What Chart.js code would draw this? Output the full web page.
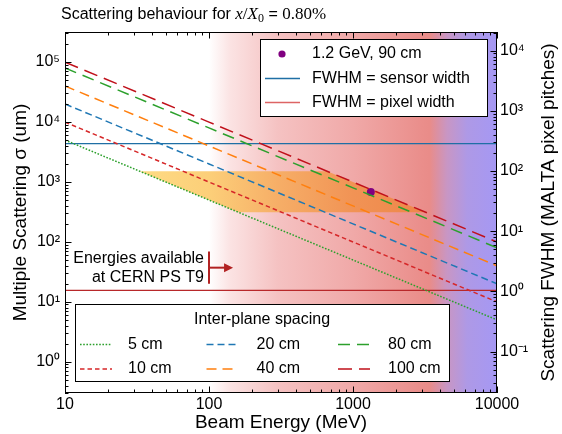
<!DOCTYPE html>
<html>
<head>
<meta charset="utf-8">
<script src="https://cdn.jsdelivr.net/npm/chart.js@4.4.1/dist/chart.umd.min.js"></script>
<style>
html,body{margin:0;padding:0;background:#fff;}
#wrap{width:562px;height:434px;position:relative;}
canvas{display:block;}
</style>
</head>
<body>
<div id="wrap"><canvas id="c" width="562" height="434"></canvas></div>
<script>
// ---------------- DATA ----------------
const energies = [10, 100, 1000, 10000];               // Beam energy (MeV)
const spacingLabels = ['5 cm', '10 cm', '20 cm', '40 cm', '80 cm', '100 cm'];
const sigma5cm   = [4970, 497, 49.7, 4.97];            // multiple scattering sigma (um)
const sigma10cm  = [9930, 993, 99.3, 9.93];
const sigma20cm  = [19900, 1990, 199, 19.9];
const sigma40cm  = [39700, 3970, 397, 39.7];
const sigma80cm  = [79400, 7940, 794, 79.4];
const sigma100cm = [99300, 9930, 993, 99.3];
const measuredLabel = '1.2 GeV, 90 cm';
const measuredEnergy = [1330];
const measuredSigma = [680];
const sensorWidthSigma = 4350;       // um, FWHM = sensor width
const pixelWidthSigma = 15.46;       // um, FWHM = pixel width
const sigmaPerPixelPitch = 15.46;    // um of sigma per FWHM pixel pitch
const bandEnergies = [33, 662, 3200, 160];   // highlighted region vertices (MeV)
const bandSigma = [1500, 1500, 310, 310];    // highlighted region vertices (um)
const xTickValues = [10, 100, 1000, 10000];
const yTickValues = [1, 10, 100, 1000, 10000, 100000];
const y2TickValues = [0.1, 1, 10, 100, 1000, 10000];
const xRange = [10, 10000];
const yRange = [0.3162, 316228];
const t9Energy = 100;                 // MeV, lowest energy at CERN PS T9

// ---------------- STYLE ----------------
const FONT = "'Liberation Sans', Arial, Helvetica, sans-serif";
const SERIF = "'Liberation Serif', 'Times New Roman', serif";
Chart.defaults.font.family = FONT;
Chart.defaults.color = '#000';
const seriesColors = ['#2ca02c', '#d62728', '#1f77b4', '#ff7f0e', '#2ca02c', '#c0101a'];
const seriesDashes = [[1.6, 1.6], [4.5, 3], [7, 4], [10, 6], [12, 7], [14, 7]];
const sensorColor = '#1f6fa5';
const pixelColor = '#b8282a';
const pointColor = '#800080';
const arrowColor = '#b22222';
const bgStops = [[100, '#ffffff'], [140, '#fbe3e3'], [300, '#f5c2c2'], [1000, '#f0a9a8'],
                 [3000, '#ea8e8b'], [3400, '#e98c89'], [4500, '#c896c4'], [6200, '#ae99e6'], [10000, '#a598f4']];
const bandStops = [[33, '#fedb84'], [100, '#fccf79'], [300, '#f6ae67'], [1000, '#f19355'], [3200, '#ee8649']];

const seriesArrays = [sigma5cm, sigma10cm, sigma20cm, sigma40cm, sigma80cm, sigma100cm];
const toPts = (xs, ys) => xs.map((x, i) => ({x: x, y: ys[i]}));

function xGradient(chart, stops) {
  const a = chart.chartArea, xs = chart.scales.x;
  if (!a || !xs) return null;
  const g = chart.ctx.createLinearGradient(a.left, 0, a.right, 0);
  const w = a.right - a.left;
  stops.forEach(([e, c]) => {
    const f = Math.min(1, Math.max(0, (xs.getPixelForValue(e) - a.left) / w));
    g.addColorStop(f, c);
  });
  return g;
}

const datasets = seriesArrays.map((arr, i) => ({
  label: spacingLabels[i],
  data: toPts(energies, arr),
  borderColor: seriesColors[i],
  borderDash: seriesDashes[i],
  borderWidth: 1.5,
  pointRadius: 0,
  fill: false,
  yAxisID: 'y'
}));
datasets.push({
  label: measuredLabel, data: toPts(measuredEnergy, measuredSigma),
  showLine: false, pointRadius: 4, pointBackgroundColor: pointColor, pointBorderColor: pointColor,
  pointBorderWidth: 0, borderColor: pointColor, yAxisID: 'y', legendKind: 'point'
});
datasets.push({
  label: 'FWHM = sensor width', data: toPts(xRange, [sensorWidthSigma, sensorWidthSigma]),
  borderColor: sensorColor, borderWidth: 1.3, pointRadius: 0, yAxisID: 'y', legendKind: 'line'
});
datasets.push({
  label: 'FWHM = pixel width', data: toPts(xRange, [pixelWidthSigma, pixelWidthSigma]),
  borderColor: pixelColor, borderWidth: 1.3, pointRadius: 0, yAxisID: 'y', legendKind: 'line',
  legendColor: '#dd6464'
});
datasets.push({
  label: 'band', data: toPts(bandEnergies, bandSigma),
  borderWidth: 0, borderColor: 'rgba(0,0,0,0)', pointRadius: 0, fill: 'shape',
  backgroundColor: (ctx) => xGradient(ctx.chart, bandStops) || '#f6ae67', yAxisID: 'y', legendKind: 'none'
});

const SUP = {'0':'⁰','1':'¹','2':'²','3':'³','4':'⁴','5':'⁵','6':'⁶','7':'⁷','8':'⁸','9':'⁹','-':'⁻'};
const powLabel = (v) => {
  const e = Math.round(Math.log10(v));
  return '10' + String(e).split('').map(c => SUP[c]).join('');
};

function drawLogTicks(ctx, scale, a, side) {
  const lo = Math.log10(scale.min), hi = Math.log10(scale.max);
  for (let k = Math.floor(lo) - 1; k <= Math.ceil(hi); k++) {
    for (let m = 1; m <= 9; m++) {
      const v = m * Math.pow(10, k);
      const lv = Math.log10(v);
      if (lv < lo - 1e-9 || lv > hi + 1e-9) continue;
      const len = m === 1 ? 6.5 : 3.5;
      const p = Math.round(scale.getPixelForValue(v)) + 0.5;
      ctx.beginPath();
      if (side === 'bottom') { ctx.moveTo(p, a.bottom); ctx.lineTo(p, a.bottom - len); }
      else if (side === 'top') { ctx.moveTo(p, a.top); ctx.lineTo(p, a.top + len); }
      else if (side === 'left') { ctx.moveTo(a.left, p); ctx.lineTo(a.left + len, p); }
      else { ctx.moveTo(a.right, p); ctx.lineTo(a.right - len, p); }
      ctx.stroke();
    }
  }
}

function legendLine(ctx, ds, x0, x1, y) {
  ctx.save();
  ctx.strokeStyle = ds.legendColor || ds.borderColor;
  ctx.lineWidth = ds.legendKind === 'line' ? 1.6 : (ds.borderWidth || 1.5);
  ctx.setLineDash(ds.borderDash || []);
  ctx.beginPath(); ctx.moveTo(x0, y); ctx.lineTo(x1, y); ctx.stroke();
  ctx.restore();
}

const decor = {
  id: 'decor',
  beforeDatasetsDraw(chart) {
    const {ctx, chartArea: a} = chart;
    ctx.save();
    ctx.fillStyle = xGradient(chart, bgStops);
    ctx.fillRect(a.left, a.top, a.right - a.left, a.bottom - a.top);
    ctx.restore();
  },
  afterDatasetsDraw(chart) {
    const {ctx, chartArea: a, scales} = chart;
    const dsets = chart.data.datasets;
    ctx.save();
    // frame
    ctx.strokeStyle = '#000'; ctx.lineWidth = 1;
    ctx.strokeRect(Math.round(a.left) + 0.5, Math.round(a.top) + 0.5,
                   Math.round(a.right - a.left) - 1, Math.round(a.bottom - a.top) - 1);
    drawLogTicks(ctx, scales.x, a, 'bottom');
    drawLogTicks(ctx, scales.x, a, 'top');
    drawLogTicks(ctx, scales.y, a, 'left');
    drawLogTicks(ctx, scales.y2, a, 'right');

    // CERN PS T9 annotation
    const bx = scales.x.getPixelForValue(t9Energy);
    const yTop = scales.y.getPixelForValue(69), yBot = scales.y.getPixelForValue(20);
    const yArr = scales.y.getPixelForValue(37);
    const xEnd = scales.x.getPixelForValue(147);
    ctx.strokeStyle = arrowColor; ctx.fillStyle = arrowColor; ctx.lineWidth = 2;
    ctx.beginPath(); ctx.moveTo(bx, yTop); ctx.lineTo(bx, yBot); ctx.stroke();
    ctx.beginPath(); ctx.moveTo(bx, yArr); ctx.lineTo(xEnd - 7, yArr); ctx.stroke();
    ctx.beginPath(); ctx.moveTo(xEnd, yArr); ctx.lineTo(xEnd - 9, yArr - 4.5); ctx.lineTo(xEnd - 9, yArr + 4.5); ctx.closePath(); ctx.fill();
    ctx.fillStyle = '#000'; ctx.font = '16px ' + FONT; ctx.textAlign = 'right'; ctx.textBaseline = 'middle';
    ctx.fillText('Energies available', bx - 5, yArr - 9.5);
    ctx.fillText('at CERN PS T9', bx - 5, yArr + 9.8);

    // upper-right legend
    ctx.fillStyle = '#fff'; ctx.strokeStyle = '#000'; ctx.lineWidth = 1;
    ctx.fillRect(260.5, 39.5, 227, 77); ctx.strokeRect(260.5, 39.5, 227, 77);
    const upper = dsets.filter(d => d.legendKind === 'point' || d.legendKind === 'line');
    upper.forEach((d, i) => {
      const yy = 54 + i * 24.2;
      if (d.legendKind === 'point') {
        ctx.fillStyle = d.pointBackgroundColor;
        ctx.beginPath(); ctx.arc(282, yy, 3.6, 0, Math.PI * 2); ctx.fill();
      } else {
        legendLine(ctx, d, 265, 300, Math.round(yy) + 0.5);
      }
      ctx.fillStyle = '#000'; ctx.textAlign = 'left'; ctx.textBaseline = 'middle'; ctx.font = '16px ' + FONT;
      ctx.fillText(d.label, 312, yy);
    });

    // lower legend: Inter-plane spacing
    ctx.fillStyle = '#fff'; ctx.strokeStyle = '#000'; ctx.lineWidth = 1;
    ctx.fillRect(75.5, 304.5, 374, 77); ctx.strokeRect(75.5, 304.5, 374, 77);
    ctx.fillStyle = '#000'; ctx.textAlign = 'center'; ctx.textBaseline = 'middle'; ctx.font = '16px ' + FONT;
    ctx.fillText('Inter-plane spacing', 262, 320);
    const colLine = [80, 206.5, 338], colText = [128, 256.5, 388], rowY = [344.5, 369];
    dsets.slice(0, spacingLabels.length).forEach((d, i) => {
      const c = Math.floor(i / 2), r = i % 2;
      legendLine(ctx, d, colLine[c], colLine[c] + 32, rowY[r]);
      ctx.fillStyle = '#000'; ctx.textAlign = 'left'; ctx.textBaseline = 'middle'; ctx.font = '16px ' + FONT;
      ctx.fillText(d.label, colText[c], rowY[r]);
    });
    ctx.restore();
  },
  afterDraw(chart) {
    const ctx = chart.ctx, a = chart.chartArea;
    ctx.save();
    ctx.fillStyle = '#000'; ctx.textBaseline = 'alphabetic'; ctx.textAlign = 'left';
    let x = 61; const y = 19;
    const parts = [
      ['Scattering behaviour for ', '16px ' + FONT, 0],
      ['x', 'italic 17px ' + SERIF, 0],
      ['/', '17px ' + SERIF, 0],
      ['X', 'italic 17px ' + SERIF, 0],
      ['0', '12px ' + SERIF, 3],
      [' = ', '16px ' + FONT, 0],
      ['0.80%', '17px ' + SERIF, 0]
    ];
    parts.forEach(([t, f, dy]) => {
      ctx.font = f; ctx.fillText(t, x, y + dy); x += ctx.measureText(t).width;
    });
    // right axis title (reads bottom-to-top)
    ctx.translate(549, (a.top + a.bottom) / 2);
    ctx.rotate(-Math.PI / 2);
    ctx.textAlign = 'center'; ctx.textBaseline = 'middle';
    ctx.font = '19px ' + FONT;
    ctx.fillText('Scattering FWHM (MALTA pixel pitches)', 0, 0);
    ctx.restore();
  }
};

const tickFont = {size: 16, family: FONT};
const titleFont = {size: 19, family: FONT};

new Chart(document.getElementById('c'), {
  type: 'line',
  data: {datasets: datasets},
  options: {
    responsive: false,
    animation: false,
    events: [],
    layout: {padding: {top: 32, left: 0, right: 0, bottom: 0}},
    plugins: {legend: {display: false}, tooltip: {enabled: false}, title: {display: false}},
    scales: {
      x: {
        type: 'logarithmic', position: 'bottom', min: xRange[0], max: xRange[1],
        grid: {display: false, drawTicks: false, tickLength: 0}, border: {display: false},
        afterBuildTicks: (s) => { s.ticks = xTickValues.map(v => ({value: v})); },
        afterFit: (s) => { s.height = 41; },
        ticks: {font: tickFont, color: '#000', padding: 2, autoSkip: false, maxRotation: 0,
                callback: (v) => String(v)},
        title: {display: true, text: 'Beam Energy (MeV)', font: titleFont, color: '#000', padding: {top: 0, bottom: 0}}
      },
      y: {
        type: 'logarithmic', position: 'left', min: yRange[0], max: yRange[1],
        grid: {display: false, drawTicks: false, tickLength: 0}, border: {display: false},
        afterBuildTicks: (s) => { s.ticks = yTickValues.map(v => ({value: v})); },
        afterFit: (s) => { s.width = 65; },
        ticks: {font: tickFont, color: '#000', padding: 5, autoSkip: false, callback: powLabel},
        title: {display: true, text: 'Multiple Scattering σ (um)', font: titleFont, color: '#000', padding: {top: 9, bottom: 0}}
      },
      y2: {
        type: 'logarithmic', position: 'right',
        min: yRange[0] / sigmaPerPixelPitch, max: yRange[1] / sigmaPerPixelPitch,
        grid: {display: false, drawTicks: false, tickLength: 0}, border: {display: false},
        afterBuildTicks: (s) => { s.ticks = y2TickValues.map(v => ({value: v})); },
        afterFit: (s) => { s.width = 65; },
        ticks: {font: tickFont, color: '#000', padding: 3, autoSkip: false, callback: powLabel},
        title: {display: false}
      }
    }
  },
  plugins: [decor]
});
</script>
</body>
</html>
